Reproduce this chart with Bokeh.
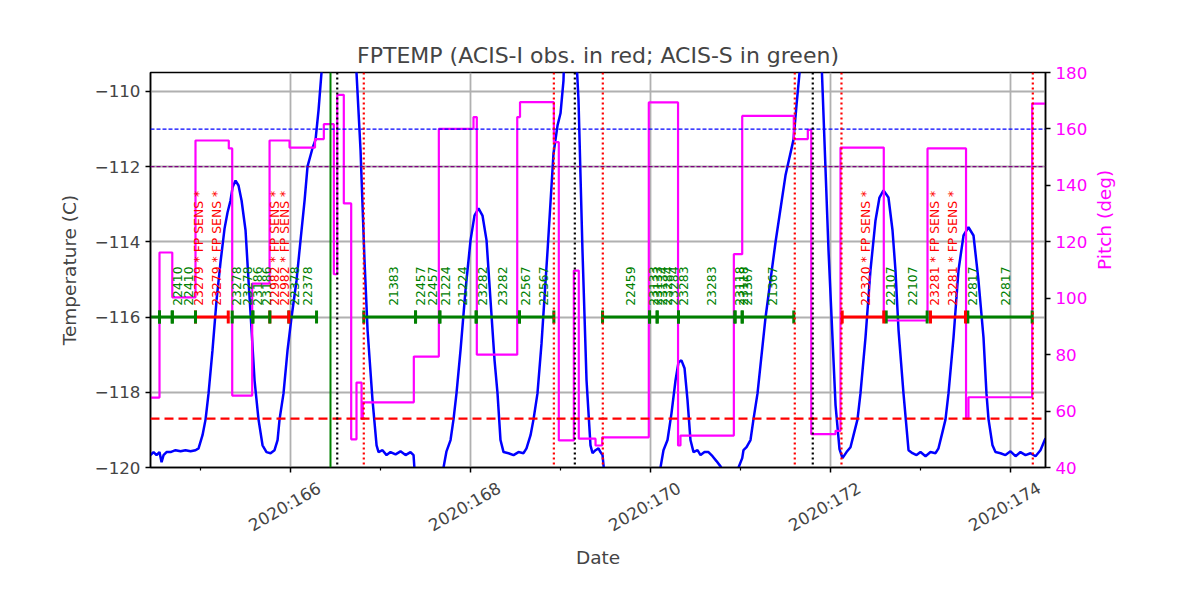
import math
from bokeh.plotting import figure
from bokeh.models import Range1d, LinearAxis, FixedTicker, Span, ColumnDataSource, CustomJSTickFormatter
from bokeh.embed import file_html
from bokeh.resources import INLINE
from bokeh.core.properties import value

# ---------------- data ----------------
title_text = "FPTEMP (ACIS-I obs. in red; ACIS-S in green)"

# FPTEMP (C) vs day of year 2020
temp_day = [164.444, 164.478, 164.511, 164.544, 164.567, 164.589, 164.622, 164.667, 164.722, 164.778,
            164.833, 164.889, 164.944, 164.978, 165.022, 165.056, 165.089, 165.133, 165.178, 165.222,
            165.267, 165.300, 165.333, 165.356, 165.389, 165.422, 165.456, 165.500, 165.533, 165.567,
            165.600, 165.644, 165.689, 165.733, 165.778, 165.822, 165.856, 165.878, 165.922, 165.967,
            166.011, 166.067, 166.111, 166.156, 166.189, 166.244, 166.278, 166.311, 166.344, 166.370,
            166.530, 166.710, 166.733, 166.778, 166.822, 166.856, 166.911, 166.956, 166.978, 167.022,
            167.067, 167.111, 167.167, 167.222, 167.278, 167.333, 167.367, 167.378, 167.444, 167.633,
            167.700, 167.733, 167.778, 167.811, 167.844, 167.889, 167.944, 168.000, 168.044, 168.089,
            168.133, 168.178, 168.222, 168.267, 168.300, 168.333, 168.367, 168.422, 168.478, 168.533,
            168.589, 168.622, 168.667, 168.700, 168.744, 168.789, 168.856, 168.922, 168.967, 169.000,
            169.033, 169.100, 169.178, 169.200, 169.244, 169.289, 169.333, 169.356, 169.389, 169.422,
            169.444, 169.467, 169.483, 169.556, 170.056, 170.111, 170.144, 170.189, 170.233, 170.278,
            170.311, 170.344, 170.378, 170.411, 170.444, 170.478, 170.522, 170.556, 170.600, 170.644,
            170.689, 170.733, 170.778, 170.800, 170.889, 170.956, 170.978, 171.019, 171.033, 171.067,
            171.111, 171.144, 171.189, 171.278, 171.389, 171.500, 171.589, 171.622, 171.656, 171.778,
            171.900, 171.978, 172.056, 172.100, 172.133, 172.178, 172.222, 172.256, 172.300, 172.333,
            172.389, 172.444, 172.500, 172.544, 172.589, 172.644, 172.689, 172.722, 172.756, 172.811,
            172.867, 172.911, 172.956, 173.000, 173.056, 173.111, 173.167, 173.200, 173.244, 173.278,
            173.311, 173.367, 173.422, 173.478, 173.533, 173.589, 173.644, 173.700, 173.733, 173.756,
            173.800, 173.833, 173.889, 173.944, 174.000, 174.056, 174.111, 174.167, 174.222, 174.278,
            174.333, 174.389]
temp_c = [-119.67, -119.59, -119.67, -119.59, -119.86, -119.67, -119.59, -119.59, -119.54, -119.57,
          -119.54, -119.57, -119.54, -119.49, -119.14, -118.72, -118.03, -116.88, -115.55, -114.54,
          -113.64, -113.22, -112.90, -112.55, -112.37, -112.50, -112.90, -113.69, -115.02, -116.35,
          -117.68, -118.72, -119.41, -119.59, -119.62, -119.54, -119.27, -118.72, -118.03, -116.88,
          -116.01, -115.02, -113.96, -112.90, -111.99, -111.51, -111.28, -110.50, -109.50, -108.50,
          -104.00, -108.80, -109.50, -111.57, -114.49, -116.35, -118.21, -119.41, -119.59, -119.54,
          -119.67, -119.59, -119.65, -119.57, -119.67, -119.59, -119.67, -120.07, -120.80, -120.80,
          -120.00, -119.57, -119.27, -118.72, -118.03, -116.88, -115.29, -113.96, -113.30, -113.11,
          -113.30, -113.96, -115.55, -117.15, -118.03, -119.27, -119.59, -119.62, -119.67, -119.59,
          -119.62, -119.49, -119.14, -118.72, -118.03, -116.70, -114.23, -111.65, -110.90, -110.58,
          -109.71, -104.00, -109.18, -110.24, -114.23, -117.68, -119.41, -119.62, -119.54, -119.49,
          -119.59, -119.67, -120.07, -120.80, -120.80, -120.00, -119.54, -119.27, -118.56, -117.68,
          -117.20, -117.15, -117.36, -118.21, -119.27, -119.59, -119.54, -119.67, -119.59, -119.59,
          -119.70, -119.83, -119.97, -120.07, -120.80, -120.80, -120.00, -119.75, -119.54, -119.46,
          -119.27, -118.72, -118.03, -116.01, -114.01, -112.23, -111.28, -110.37, -109.50, -104.00,
          -109.18, -114.23, -118.34, -119.51, -119.75, -119.59, -119.46, -119.14, -118.72, -118.03,
          -116.54, -114.76, -113.43, -112.82, -112.63, -112.82, -113.69, -114.76, -116.35, -118.03,
          -119.54, -119.62, -119.67, -119.59, -119.70, -119.59, -119.62, -119.49, -119.06, -118.72,
          -118.03, -116.54, -114.76, -113.83, -113.61, -113.83, -115.02, -116.54, -118.03, -118.72,
          -119.41, -119.59, -119.62, -119.67, -119.57, -119.70, -119.59, -119.67, -119.62, -119.70,
          -119.54, -119.22]

# Pitch (deg), stepwise, value holds from each time until the next
pitch_day = [164.444, 164.544, 164.686, 164.944, 165.314, 165.352, 165.574, 165.767, 165.989, 166.272,
             166.370, 166.481, 166.519, 166.592, 166.674, 166.733, 166.789, 166.803, 167.370, 167.648,
             168.033, 168.070, 168.519, 168.550, 168.926, 168.981, 169.148, 169.203, 169.389, 169.463,
             169.981, 170.306, 170.333, 170.926, 171.019, 171.592, 171.748, 171.786, 172.056, 172.111,
             172.592, 173.078, 173.506, 173.533, 174.241, 174.389]
pitch_deg = [64.8, 116.2, 100.3, 155.9, 153.1, 65.5, 105.2, 155.9, 153.4, 156.4,
             161.7, 108.5, 172.1, 133.6, 50.0, 70.1, 57.3, 63.1, 79.3, 160.0,
             164.2, 80.0, 164.2, 169.5, 155.3, 49.6, 109.8, 50.2, 47.8, 50.7,
             169.4, 47.8, 51.3, 115.6, 164.6, 156.4, 159.7, 51.8, 53.0, 153.4,
             92.1, 153.1, 57.3, 64.9, 169.0, 169.0]

# observations (ACIS-S = "S", ACIS-I = "I")
obs_start = [164.400, 164.544, 164.686, 164.944, 165.352, 165.581, 165.770, 165.981, 166.814, 167.389,
             167.659, 168.063, 168.544, 169.467, 169.989, 170.074, 170.311, 170.939, 171.019, 172.130,
             172.619, 173.111, 173.526]
obs_stop = [164.544, 164.686, 164.944, 165.308, 165.581, 165.770, 165.981, 166.289, 167.389, 167.659,
            168.063, 168.544, 168.926, 169.989, 170.074, 170.311, 170.939, 171.019, 171.592, 172.592,
            173.074, 173.500, 174.241]
obs_inst = ["S", "S", "S", "I", "S", "S", "I", "S", "S", "S",
            "S", "S", "S", "S", "S", "S", "S", "S", "S", "I",
            "S", "I", "S"]
obs_level = -116.0

label_day = [164.741, 164.870, 164.981, 165.174, 165.400, 165.519, 165.637, 165.728, 165.822, 165.937,
             166.044, 166.192, 167.148, 167.444, 167.574, 167.722, 167.908, 168.130, 168.352, 168.611,
             168.814, 169.783, 170.033, 170.083, 170.128, 170.189, 170.250, 170.372, 170.683, 170.994,
             171.030, 171.074, 171.356, 172.389, 172.667, 172.908, 173.159, 173.352, 173.574, 173.944]
label_text = ["22410", "22410", "23279 * FP SENS *", "23279 * FP SENS *", "23278", "23278", "23186", "23186",
              "22982 * FP SENS *", "22982 * FP SENS *", "22378", "22378", "21383", "22457", "22457",
              "21224", "21224", "23282", "23282", "22567", "22567", "22459", "23133", "23133", "23134",
              "23284", "23284", "23283", "23283", "23118", "23118", "21367", "21367",
              "22320 * FP SENS *", "22107", "22107", "23281 * FP SENS *", "23281 * FP SENS *",
              "22817", "22817"]
label_level = -115.7

perigee_days = [166.519, 169.159, 171.803]          # black dotted
radzone_days = [166.814, 168.926, 169.470, 171.603, 172.122, 174.248]  # red dotted
now_day = 166.444                                    # green solid

limit_planning = -118.7
limit_blue = -111.0
limit_purple = -112.0

x_major = [166, 168, 170, 172, 174]
x_minor = [165, 167, 169, 171, 173]
x_labels = ["2020:166", "2020:168", "2020:170", "2020:172", "2020:174"]
y_ticks = [-120, -118, -116, -114, -112, -110]
pitch_ticks = [40, 60, 80, 100, 120, 140, 160, 180]

# ---------------- figure ----------------
FONT = "DejaVu Sans"
FS = "16.7px"
LABEL_FS = "18.5px"
X0, X1 = 164.444, 174.389
Y0, Y1 = -120.0, -109.495
LABEL_SHIFT = 0.32   # days; moves rotated date labels so they are centred under their ticks

p = figure(frame_width=895, frame_height=395,
           min_border_left=150, min_border_right=140, min_border_top=72, min_border_bottom=125,
           x_range=Range1d(X0, X1), y_range=Range1d(Y0, Y1),
           output_backend="svg", toolbar_location=None, title=title_text)
p.extra_y_ranges = {"pitch": Range1d(40, 180)}

p.title.align = "center"
p.title.text_font = FONT
p.title.text_font_size = "22px"
p.title.text_font_style = "normal"

p.outline_line_color = "black"
p.outline_line_width = 1.5
p.background_fill_color = "white"
p.border_fill_color = "white"

# bottom axis 1: tick marks only
xa = p.xaxis[0]
xa.ticker = FixedTicker(ticks=x_major, minor_ticks=x_minor)
xa.formatter = CustomJSTickFormatter(code="return '';")
xa.major_label_text_font_size = "1px"
xa.major_label_standoff = 0

# bottom axis 2: rotated date labels and axis title
xl = LinearAxis(ticker=FixedTicker(ticks=[t + LABEL_SHIFT for t in x_major]),
                formatter=CustomJSTickFormatter(args=dict(labels=x_labels), code="return labels[index];"),
                axis_label="Date")
p.add_layout(xl, "below")
xl.axis_line_color = None
xl.major_tick_line_color = None
xl.minor_tick_line_color = None
xl.major_tick_out = 0
xl.major_tick_in = 0
xl.major_label_orientation = math.pi / 6
xl.major_label_standoff = 14
xl.major_label_text_font = FONT
xl.major_label_text_font_size = FS
xl.axis_label_text_font = FONT
xl.axis_label_text_font_size = LABEL_FS
xl.axis_label_text_font_style = "normal"
xl.axis_label_standoff = 0

ya = p.yaxis[0]
ya.ticker = FixedTicker(ticks=y_ticks)
ya.formatter = CustomJSTickFormatter(code="return tick < 0 ? '\\u2212' + Math.abs(tick) : String(tick);")
ya.axis_label = "Temperature (C)"
ya.minor_tick_line_color = None

ra = LinearAxis(y_range_name="pitch", ticker=FixedTicker(ticks=pitch_ticks), axis_label="Pitch (deg)")
p.add_layout(ra, "right")
ra.major_label_text_color = "magenta"
ra.axis_label_text_color = "magenta"
ra.minor_tick_line_color = None
try:
    ra.axis_label_orientation = math.pi / 2   # read bottom-to-top, like the reference
except Exception:
    pass

for ax in (xa, ya, ra):
    ax.major_label_text_font = FONT
    ax.axis_label_text_font = FONT
    ax.axis_label_text_font_size = LABEL_FS
    ax.axis_label_text_font_style = "normal"
    ax.axis_line_width = 1.5
    ax.major_tick_line_width = 1.5
    ax.major_tick_out = 5
    ax.major_tick_in = 0
    ax.minor_tick_line_width = 1.2
    ax.minor_tick_out = 3
    ax.minor_tick_in = 0
for ax in (ya, ra):
    ax.major_label_text_font_size = FS
    ax.major_label_standoff = 5
ya.axis_label_standoff = 12
ra.axis_label_standoff = 14

p.xgrid.grid_line_color = "#b0b0b0"
p.ygrid.grid_line_color = "#b0b0b0"
p.xgrid.grid_line_width = 1.8
p.ygrid.grid_line_width = 1.8

# temperature
p.line(temp_day, temp_c, line_color="blue", line_width=2.5)

# pitch
p.step(pitch_day, pitch_deg, mode="after", y_range_name="pitch", line_color="magenta", line_width=2.2)

# horizontal limit lines
p.add_layout(Span(location=limit_blue, dimension="width", line_color="blue", line_width=1.2, line_dash="4 2"))
p.add_layout(Span(location=limit_purple, dimension="width", line_color="purple", line_width=1.2, line_dash="4 2"))
p.add_layout(Span(location=limit_planning, dimension="width", line_color="red", line_width=2.2, line_dash="9 5"))

# vertical lines
p.add_layout(Span(location=now_day, dimension="height", line_color="green", line_width=2))
for d in perigee_days:
    p.add_layout(Span(location=d, dimension="height", line_color="black", line_width=2.2, line_dash="2 3"))
for d in radzone_days:
    p.add_layout(Span(location=d, dimension="height", line_color="red", line_width=2.2, line_dash="2 3"))

# observations
obs_color = ["red" if i == "I" else "green" for i in obs_inst]
src = ColumnDataSource(dict(x0=obs_start, x1=obs_stop, y=[obs_level] * len(obs_start), c=obs_color))
p.segment(x0="x0", y0="y", x1="x1", y1="y", line_color="c", line_width=3, source=src)
p.scatter(x="x0", y="y", marker="dash", angle=math.pi / 2, size=13, line_color="c", line_width=3, source=src)
p.scatter(x="x1", y="y", marker="dash", angle=math.pi / 2, size=13, line_color="c", line_width=3, source=src)

label_color = ["red" if "*" in t else "green" for t in label_text]
lsrc = ColumnDataSource(dict(x=label_day, y=[label_level] * len(label_day), t=label_text, c=label_color))
p.text(x="x", y="y", text="t", angle=math.pi / 2, text_align="left", text_baseline="middle",
       text_color="c", text_font=value(FONT), text_font_size="12.4px", source=lsrc)

open("out.html", "w").write(file_html(p, INLINE))
